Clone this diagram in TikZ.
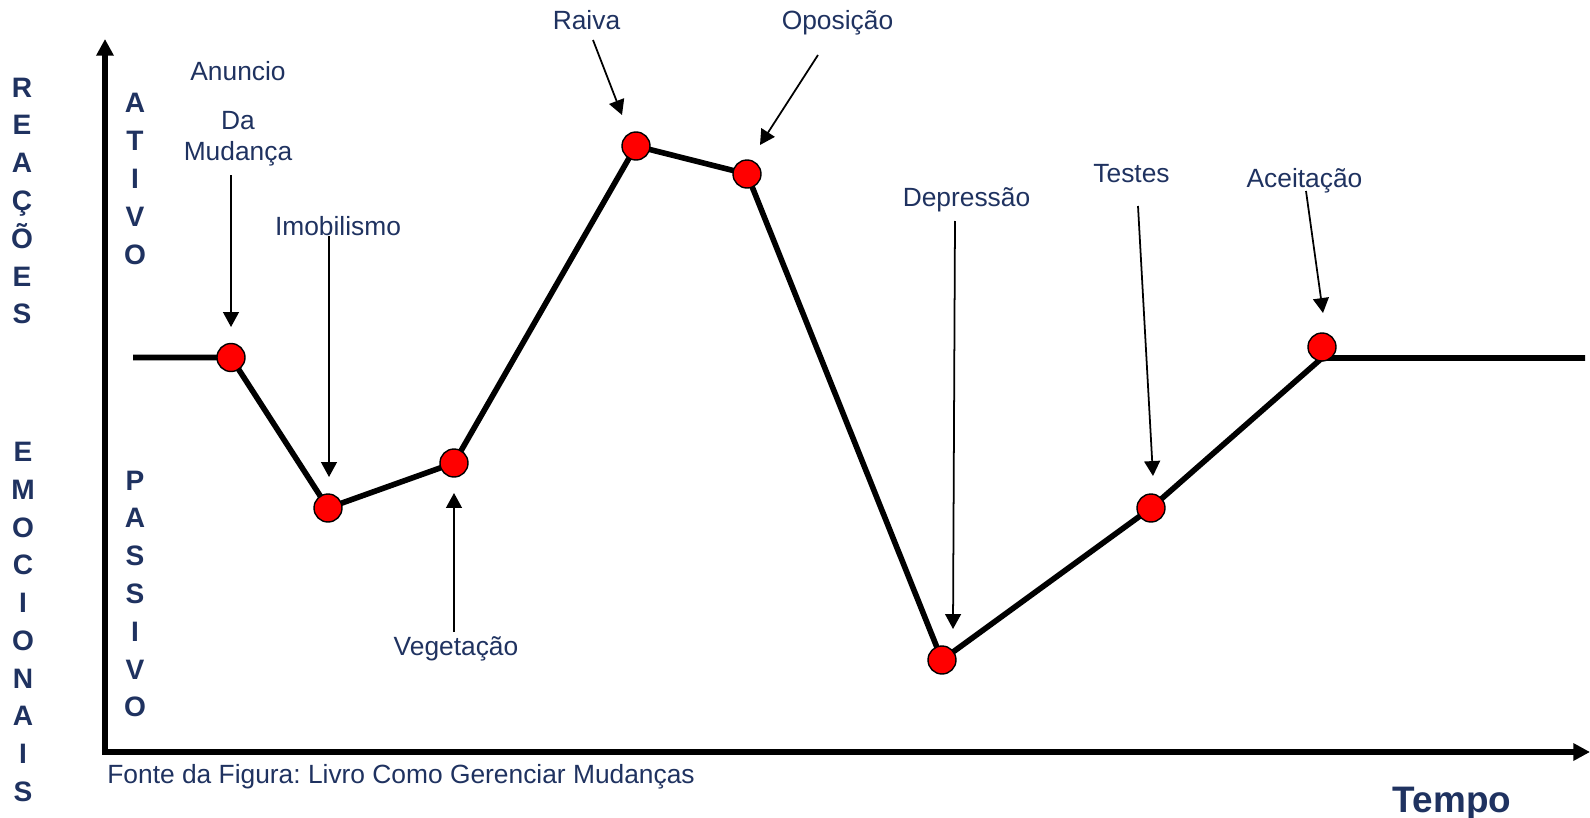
\documentclass[tikz,border=0pt]{standalone}
\usepackage{fontspec}
\setmainfont{Liberation Sans}
\usepackage{xcolor}
\usepackage{tikz}
\usetikzlibrary{arrows.meta}
\definecolor{azul}{RGB}{31,50,96}
\frenchspacing

\begin{document}
\begin{tikzpicture}[x=0.02cm,y=-0.02cm,
	rotulo/.style={text=azul,font=\fontsize{15}{18}\selectfont,inner sep=0pt,anchor=base},
	letras/.style={text=azul,font=\bfseries\fontsize{16}{21.5}\selectfont,align=center,inner sep=0pt},
	ponto/.style={circle,fill=red,draw=black,line width=0.8pt,minimum size=0.56cm,inner sep=0pt},
	seta/.style={-{Triangle[length=8.5pt,width=9pt]},line width=1pt},
	eixo/.style={-{Triangle[length=9.5pt,width=9.5pt]},line width=3.1pt,line cap=rect},
	curva/.style={line width=3.2pt,line join=round}]
	\useasboundingbox (0,0) rectangle (1590,818);
	% eixos
	\coordinate (origem) at (105,752);
	\coordinate (topo) at (105,39);
	\coordinate (fimx) at (1590,752);
	\draw[eixo] (origem) -- (topo);
	\draw[eixo] (origem) -- (fimx);
	\node[letras] (reacoes) at (22,201) {R\\E\\A\\Ç\\Õ\\E\\S};
	\node[letras] (emocionais) at (23,622) {E\\M\\O\\C\\I\\O\\N\\A\\I\\S};
	\node[letras] (ativo) at (135,179) {A\\T\\I\\V\\O};
	\node[letras] (passivo) at (135,594) {P\\A\\S\\S\\I\\V\\O};
	\node[rotulo,anchor=base west] (fonte) at (107,783) {Fonte da Figura: Livro Como Gerenciar Mudanças};
	\node[rotulo,font=\bfseries\fontsize{21}{25}\selectfont] (tempo) at (1452,812) {Tempo};
	% curva das reacoes
	\coordinate (ini) at (133,357.5);
	\coordinate (c1) at (231,357.5);
	\coordinate (c2) at (328,508);
	\coordinate (c3) at (454,463);
	\coordinate (c4) at (636,146);
	\coordinate (c5) at (747,174);
	\coordinate (c6) at (942,660);
	\coordinate (c7) at (1151,508);
	\coordinate (c8) at (1322,358);
	\coordinate (fim) at (1585,358);
	\draw[curva] (ini) -- (c1) -- (c2) -- (c3) -- (c4) -- (c5) -- (c6) -- (c7) -- (c8) -- (fim);
	\node[ponto] (p1) at (c1) {};
	\node[ponto] (p2) at (c2) {};
	\node[ponto] (p3) at (c3) {};
	\node[ponto] (p4) at (c4) {};
	\node[ponto] (p5) at (c5) {};
	\node[ponto] (p6) at (c6) {};
	\node[ponto] (p7) at (c7) {};
	\node[ponto] (p8) at (1322,347) {};
	% rotulos e setas
	\node[rotulo] (anuncio) at (238,80) {Anuncio};
	\node[rotulo] (da) at (238,129) {Da};
	\node[rotulo] (mudanca) at (238,160) {Mudança};
	\coordinate (s1) at (231,175);
	\coordinate (t1) at (231,327);
	\draw[seta] (s1) -- (t1);
	\node[rotulo] (imobilismo) at (338,235) {Imobilismo};
	\coordinate (s2) at (329,236);
	\coordinate (t2) at (329,477);
	\draw[seta] (s2) -- (t2);
	\node[rotulo] (vegetacao) at (456,655) {Vegetação};
	\coordinate (s3) at (454,632);
	\coordinate (t3) at (454,493);
	\draw[seta] (s3) -- (t3);
	\node[rotulo] (raiva) at (586.5,30) {Raiva};
	\coordinate (s4) at (593,40);
	\coordinate (t4) at (622,115);
	\draw[seta] (s4) -- (t4);
	\node[rotulo] (oposicao) at (837.5,30) {Oposição};
	\coordinate (s5) at (818,55);
	\coordinate (t5) at (760,145);
	\draw[seta] (s5) -- (t5);
	\node[rotulo] (depressao) at (966.5,206) {Depressão};
	\coordinate (s6) at (955,221);
	\coordinate (t6) at (953,629);
	\draw[seta] (s6) -- (t6);
	\node[rotulo] (testes) at (1131.5,182) {Testes};
	\coordinate (s7) at (1138,206);
	\coordinate (t7) at (1153,476);
	\draw[seta] (s7) -- (t7);
	\node[rotulo] (aceitacao) at (1304.5,187) {Aceitação};
	\coordinate (s8) at (1306,191);
	\coordinate (t8) at (1323,313);
	\draw[seta] (s8) -- (t8);
\end{tikzpicture}
\end{document}
